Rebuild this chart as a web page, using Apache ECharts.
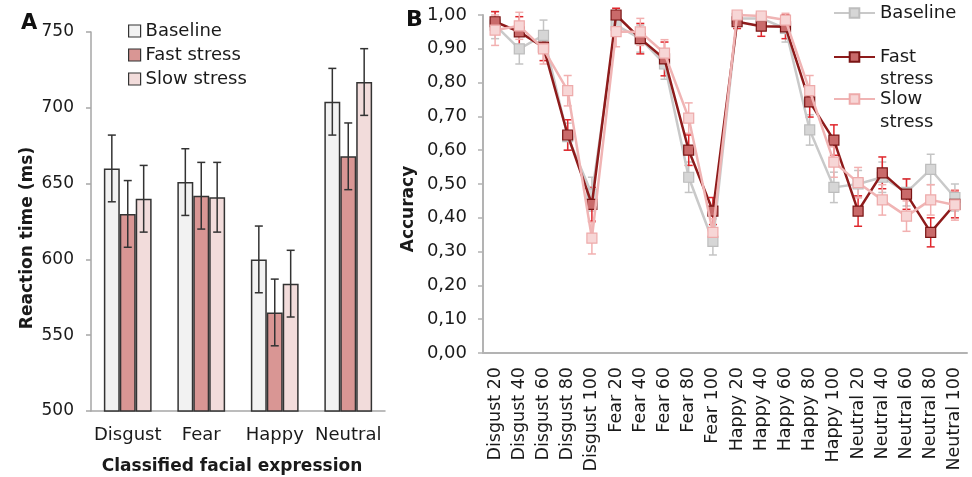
<!DOCTYPE html>
<html>
<head>
<meta charset="utf-8">
<script src="https://cdn.jsdelivr.net/npm/echarts@6/dist/echarts.min.js"></script>
<style>
  html, body { margin: 0; padding: 0; background: #fff; }
  #chart { width: 972px; height: 477px; }
</style>
</head>
<body>
<div id="chart"></div>
<script>
  // panel A - reaction time
  var catsA = ['Disgust', 'Fear', 'Happy', 'Neutral']
  var rtBaseline = [660, 651, 600, 704]
  var rtBaselineErr = [22, 22, 22, 22]
  var rtFast = [630, 642, 565, 668]
  var rtFastErr = [22, 22, 22, 22]
  var rtSlow = [640, 641, 584, 717]
  var rtSlowErr = [22, 23, 22, 22]
  var rtTicks = [500, 750, 50]

  // panel B - accuracy
  var catsB = ['Disgust 20', 'Disgust 40', 'Disgust 60', 'Disgust 80', 'Disgust 100',
    'Fear 20', 'Fear 40', 'Fear 60', 'Fear 80', 'Fear 100',
    'Happy 20', 'Happy 40', 'Happy 60', 'Happy 80', 'Happy 100',
    'Neutral 20', 'Neutral 40', 'Neutral 60', 'Neutral 80', 'Neutral 100']
  var accBaseline = [0.97, 0.90, 0.94, 0.64, 0.47, 0.97, 0.93, 0.855, 0.52, 0.33,
    0.99, 0.99, 0.96, 0.66, 0.49, 0.50, 0.52, 0.475, 0.543, 0.46]
  var accBaselineErr = [0.04, 0.045, 0.045, 0.04, 0.05, 0.03, 0.04, 0.045, 0.045, 0.04,
    0.02, 0.02, 0.04, 0.045, 0.045, 0.04, 0.045, 0.04, 0.045, 0.04]
  var accFast = [0.98, 0.95, 0.905, 0.645, 0.44, 1.00, 0.93, 0.87, 0.60, 0.42,
    0.98, 0.967, 0.965, 0.743, 0.63, 0.42, 0.533, 0.47, 0.357, 0.44]
  var accFastErr = [0.03, 0.045, 0.04, 0.045, 0.05, 0.02, 0.045, 0.05, 0.045, 0.04,
    0.02, 0.03, 0.035, 0.045, 0.045, 0.045, 0.047, 0.045, 0.043, 0.04]
  var accSlow = [0.955, 0.968, 0.90, 0.776, 0.34, 0.951, 0.95, 0.887, 0.695, 0.357,
    1.00, 0.997, 0.985, 0.776, 0.565, 0.504, 0.453, 0.405, 0.453, 0.438]
  var accSlowErr = [0.045, 0.04, 0.045, 0.045, 0.047, 0.045, 0.04, 0.04, 0.045, 0.04,
    0.01, 0.01, 0.02, 0.045, 0.045, 0.045, 0.045, 0.045, 0.045, 0.045]

  var font = 'DejaVu Sans'
  var ink = '#1a1a1a'

  // error bars for the grouped bars (k = bar slot 0..2)
  function barErr(vals, errs, k) {
    return {
      type: 'custom',
      xAxisIndex: 0,
      yAxisIndex: 0,
      z: 5,
      encode: { x: 0, y: [1, 2] },
      data: vals.map(function (v, i) { return [i, v - errs[i], v + errs[i]] }),
      renderItem: function (params, api) {
        var lo = api.coord([api.value(0), api.value(1)])
        var hi = api.coord([api.value(0), api.value(2)])
        var bw = api.size([1, 0])[0] * 0.65 / 3
        var x = lo[0] + (k - 1) * bw
        var st = { stroke: '#333', lineWidth: 1.5 }
        return {
          type: 'group',
          children: [
            { type: 'line', shape: { x1: x, y1: lo[1], x2: x, y2: hi[1] }, style: st },
            { type: 'line', shape: { x1: x - 4, y1: lo[1], x2: x + 4, y2: lo[1] }, style: st },
            { type: 'line', shape: { x1: x - 4, y1: hi[1], x2: x + 4, y2: hi[1] }, style: st }
          ]
        }
      }
    }
  }

  function lineErr(vals, errs, color) {
    return {
      type: 'custom',
      xAxisIndex: 1,
      yAxisIndex: 1,
      z: 1,
      encode: { x: 0, y: [1, 2] },
      data: vals.map(function (v, i) { return [i, v - errs[i], v + errs[i]] }),
      renderItem: function (params, api) {
        var lo = api.coord([api.value(0), api.value(1)])
        var hi = api.coord([api.value(0), api.value(2)])
        var x = lo[0]
        var st = { stroke: color, lineWidth: 1.5 }
        return {
          type: 'group',
          children: [
            { type: 'line', shape: { x1: x, y1: lo[1], x2: x, y2: hi[1] }, style: st },
            { type: 'line', shape: { x1: x - 4, y1: lo[1], x2: x + 4, y2: lo[1] }, style: st },
            { type: 'line', shape: { x1: x - 4, y1: hi[1], x2: x + 4, y2: hi[1] }, style: st }
          ]
        }
      }
    }
  }

  function accLine(name, data, lineColor, fill, border, z) {
    return {
      name: name,
      type: 'line',
      xAxisIndex: 1,
      yAxisIndex: 1,
      z: z,
      data: data,
      symbol: 'rect',
      symbolSize: 10,
      lineStyle: { color: lineColor, width: 2.5 },
      itemStyle: { color: fill, borderColor: border, borderWidth: 1.2 }
    }
  }

  var legText = { fontFamily: font, fontSize: 18, color: ink, lineHeight: 22 }

  function legB(name, label, top) {
    return {
      data: [name],
      left: 833,
      top: top,
      padding: 0,
      itemWidth: 41,
      itemHeight: 12,
      selectedMode: false,
      formatter: function () { return label },
      textStyle: legText
    }
  }

  var option = {
    animation: false,
    textStyle: { fontFamily: font },
    grid: [
      { left: 91, top: 32, width: 294, height: 379, outerBoundsMode: 'none' },
      { left: 483, top: 15, width: 484, height: 338, outerBoundsMode: 'none' }
    ],
    legend: [
      {
        data: ['Baseline', 'Fast stress', 'Slow stress'],
        orient: 'vertical',
        left: 128,
        top: 20,
        padding: 0,
        itemWidth: 12,
        itemHeight: 12,
        itemGap: 2,
        selectedMode: false,
        icon: 'rect',
        itemStyle: { borderColor: '#333', borderWidth: 1.2 },
        textStyle: legText
      },
      legB('B-Baseline', 'Baseline', 2),
      legB('B-Fast stress', 'Fast', 46),
      legB('B-Slow stress', 'Slow', 88)
    ],
    xAxis: [
      {
        type: 'category',
        gridIndex: 0,
        data: catsA,
        axisLine: { lineStyle: { color: '#a6a6a6', width: 1.5 } },
        axisTick: { lineStyle: { color: '#a6a6a6', width: 1.5 }, length: 5 },
        axisLabel: { color: ink, fontSize: 18, margin: 15, interval: 0 },
        name: 'Classified facial expression',
        nameLocation: 'middle',
        nameGap: 47,
        nameTextStyle: { color: ink, fontSize: 17, fontWeight: 'bold', verticalAlign: 'top', padding: [0, 12, 0, 0] }
      },
      {
        type: 'category',
        gridIndex: 1,
        data: catsB,
        axisLine: { lineStyle: { color: '#b3b3b3', width: 2 } },
        axisTick: { alignWithLabel: true, lineStyle: { color: '#b3b3b3', width: 1.5 }, length: 5 },
        axisLabel: { color: ink, fontSize: 17.5, rotate: 90, margin: 14, interval: 0 }
      }
    ],
    yAxis: [
      {
        type: 'value',
        gridIndex: 0,
        min: rtTicks[0],
        max: rtTicks[1],
        interval: rtTicks[2],
        splitLine: { show: false },
        axisLine: { show: true, lineStyle: { color: '#a6a6a6', width: 1.5 } },
        axisTick: { show: true, lineStyle: { color: '#a6a6a6', width: 1.5 }, length: 5 },
        axisLabel: { color: ink, fontSize: 17, margin: 17 }
      },
      {
        type: 'value',
        gridIndex: 1,
        min: 0,
        max: 1,
        interval: 0.1,
        splitLine: { show: false },
        axisLine: { show: true, lineStyle: { color: '#b3b3b3', width: 2 } },
        axisTick: { show: true, lineStyle: { color: '#b3b3b3', width: 1.5 }, length: 5 },
        axisLabel: {
          color: ink, fontSize: 18, margin: 16,
          formatter: function (v) { return v.toFixed(2).replace('.', ',') }
        }
      }
    ],
    graphic: [
      { type: 'text', left: 21, top: 13, style: { text: 'A', font: 'bold 21px ' + font, fill: '#111' } },
      { type: 'text', left: 406, top: 9, style: { text: 'B', font: 'bold 22px ' + font, fill: '#111' } },
      {
        type: 'text', x: 28, y: 238, rotation: Math.PI / 2,
        style: { text: 'Reaction time (ms)', font: 'bold 17px ' + font, fill: ink, align: 'center', verticalAlign: 'middle' }
      },
      {
        type: 'text', x: 409, y: 209, rotation: Math.PI / 2,
        style: { text: 'Accuracy', font: 'bold 17px ' + font, fill: ink, align: 'center', verticalAlign: 'middle' }
      },
      { type: 'text', x: 880, y: 79, style: { text: 'stress', font: '18px ' + font, fill: ink, verticalAlign: 'middle' } },
      { type: 'text', x: 880, y: 122, style: { text: 'stress', font: '18px ' + font, fill: ink, verticalAlign: 'middle' } }
    ],
    series: [
      {
        name: 'Baseline', type: 'bar', xAxisIndex: 0, yAxisIndex: 0, data: rtBaseline,
        barGap: '0%', barCategoryGap: '35%',
        itemStyle: { color: '#f2f2f2', borderColor: '#333', borderWidth: 1.5 }
      },
      {
        name: 'Fast stress', type: 'bar', xAxisIndex: 0, yAxisIndex: 0, data: rtFast,
        barGap: '0%', barCategoryGap: '35%',
        itemStyle: { color: '#d99694', borderColor: '#333', borderWidth: 1.5 }
      },
      {
        name: 'Slow stress', type: 'bar', xAxisIndex: 0, yAxisIndex: 0, data: rtSlow,
        barGap: '0%', barCategoryGap: '35%',
        itemStyle: { color: '#f2dcdb', borderColor: '#333', borderWidth: 1.5 }
      },
      barErr(rtBaseline, rtBaselineErr, 0),
      barErr(rtFast, rtFastErr, 1),
      barErr(rtSlow, rtSlowErr, 2),
      lineErr(accBaseline, accBaselineErr, '#c4c4c4'),
      lineErr(accFast, accFastErr, '#e0262c'),
      lineErr(accSlow, accSlowErr, '#f2b0b0'),
      accLine('B-Baseline', accBaseline, '#c9c9c9', '#d6d6d6', '#bdbdbd', 2),
      accLine('B-Fast stress', accFast, '#8e1b1b', '#c96a6a', '#7a1414', 3),
      accLine('B-Slow stress', accSlow, '#f0b4b4', '#f7d6d6', '#eeaaaa', 4)
    ]
  }

  var chart = echarts.init(document.getElementById('chart'))
  chart.setOption(option)
</script>
</body>
</html>
